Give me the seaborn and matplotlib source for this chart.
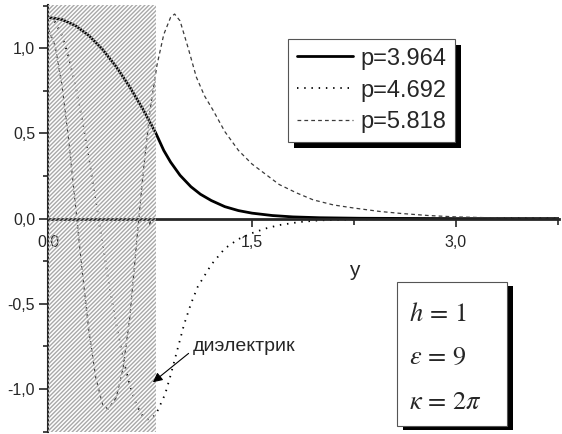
import matplotlib
matplotlib.use('Agg')
import matplotlib.pyplot as plt
import matplotlib.patheffects as pe
from matplotlib.patches import Rectangle
from matplotlib.ticker import MultipleLocator, FixedLocator, FuncFormatter
import seaborn as sns
import numpy as np

# данные
labels = ['p=3.964', 'p=4.692', 'p=5.818']

x1 = [0, 0.1, 0.2, 0.3, 0.4, 0.5, 0.6, 0.7, 0.79, 0.85, 0.9, 0.97, 1.05, 1.12,
      1.2, 1.3, 1.4, 1.5, 1.65, 1.8, 2.0, 2.3, 2.6, 3.0, 3.76]
y1 = [1.18, 1.168, 1.132, 1.073, 0.992, 0.891, 0.772, 0.637, 0.504, 0.40, 0.332,
      0.254, 0.187, 0.143, 0.106, 0.07, 0.047, 0.032, 0.018, 0.01, 0.005, 0.002,
      0.001, 0, 0]

x2 = [0, 0.05, 0.1, 0.15, 0.2, 0.25, 0.3, 0.35, 0.4, 0.45, 0.5, 0.55, 0.6, 0.65,
      0.7, 0.74, 0.79, 0.82, 0.86, 0.9, 0.95, 1.0, 1.05, 1.1, 1.2, 1.3, 1.4, 1.5,
      1.6, 1.7, 1.85, 2.0, 2.3, 2.7, 3.2, 3.76]
y2 = [1.18, 1.153, 1.075, 0.948, 0.779, 0.575, 0.344, 0.098, -0.152, -0.395,
      -0.621, -0.819, -0.979, -1.096, -1.164, -1.18, -1.152, -1.10, -1.03, -0.92,
      -0.77, -0.62, -0.50, -0.40, -0.27, -0.175, -0.12, -0.085, -0.058, -0.038,
      -0.02, -0.01, -0.004, -0.001, 0, 0]

x3 = [0, 0.05, 0.1, 0.15, 0.2, 0.25, 0.3, 0.35, 0.4, 0.44, 0.5, 0.55, 0.6, 0.65,
      0.7, 0.75, 0.8, 0.85, 0.9, 0.93, 0.97, 1.03, 1.09, 1.15, 1.21, 1.3, 1.4,
      1.5, 1.6, 1.7, 1.83, 1.95, 2.1, 2.25, 2.44, 2.6, 2.8, 3.0, 3.3, 3.76]
y3 = [1.116, 1.013, 0.785, 0.46, 0.079, -0.312, -0.665, -0.935, -1.091, -1.118,
      -1.05, -0.88, -0.58, -0.14, 0.28, 0.64, 0.9, 1.08, 1.18, 1.2, 1.16, 1.0,
      0.83, 0.72, 0.64, 0.51, 0.4, 0.32, 0.26, 0.2, 0.15, 0.11, 0.08, 0.062,
      0.042, 0.03, 0.018, 0.01, 0.004, 0]

h_diel = 0.79
x_major = [0, 1.5, 3.0]
y_major = [-1.0, -0.5, 0.0, 0.5, 1.0]
params = [r'$h\,=\,1$', r'$\varepsilon\,=\,9$', r'$\kappa\,=\,2\pi$']

sns.set_style('ticks')
plt.rcParams['font.family'] = ['Liberation Sans', 'DejaVu Sans']
plt.rcParams['mathtext.fontset'] = 'stix'
plt.rcParams['hatch.linewidth'] = 1.0

W, H = 562, 434
fig = plt.figure(figsize=(W / 100, H / 100), dpi=100)
ax = fig.add_axes([48.3 / W, 1 - 431.7 / H, 510.7 / W, 426.7 / H])

sns.lineplot(x=x1, y=y1, ax=ax, color='black', lw=2.0, label=labels[0])
sns.lineplot(x=x2, y=y2, ax=ax, color='black', lw=1.3, linestyle=(0, (0.8, 3.2)),
             label=labels[1])
sns.lineplot(x=x3, y=y3, ax=ax, color='#3a3a3a', lw=0.9, linestyle=(0, (3, 2.5)),
             label=labels[2])

# диэлектрик (штриховка поверх кривых)
ax.axvspan(0, h_diel, facecolor='none', edgecolor='#a8a8a8', hatch='////////',
           lw=0, zorder=5)

ax.set_xlim(0, 3.76)
ax.set_ylim(-1.25, 1.253)

ax.spines['bottom'].set_position('zero')
ax.spines['bottom'].set_linewidth(2.0)
ax.spines['left'].set_linewidth(1.5)
ax.spines['top'].set_visible(False)
ax.spines['right'].set_visible(False)

fmt = FuncFormatter(lambda v, p: f'{v:.1f}'.replace('.', ','))
ax.xaxis.set_major_locator(FixedLocator(x_major))
ax.xaxis.set_minor_locator(MultipleLocator(0.75))
ax.yaxis.set_major_locator(FixedLocator(y_major))
ax.yaxis.set_minor_locator(MultipleLocator(0.25))
ax.xaxis.set_major_formatter(fmt)
ax.yaxis.set_major_formatter(fmt)
ax.tick_params(axis='x', which='major', direction='out', length=6, width=1.2,
               pad=6, labelsize=11.5)
ax.tick_params(axis='x', which='minor', direction='out', length=4, width=1.2)
ax.tick_params(axis='y', which='major', direction='out', length=6.5, width=1.2,
               pad=3, labelsize=11.5)
ax.tick_params(axis='y', which='minor', direction='out', length=3.5, width=1.2)

ax.set_xlabel('y', fontsize=15)
ax.xaxis.set_label_coords(2.25 / 3.76, 0.40)
ax.set_ylabel('')

leg = ax.legend(loc='upper right', bbox_to_anchor=(0.796, 0.920), borderaxespad=0,
                fontsize=17, frameon=True, fancybox=False, framealpha=1,
                edgecolor='#555555', handlelength=2.4, handletextpad=0.3,
                labelspacing=0.42, borderpad=0.36)
leg.get_frame().set_linewidth(0.8)
leg.get_frame().set_path_effects([
    pe.SimplePatchShadow(offset=(4.3, -4.3), shadow_rgbFace='black', alpha=1),
    pe.Normal()])

ax.annotate('диэлектрик', xy=(0.77, -0.96), xytext=(1.065, -0.75),
            fontsize=14, va='center', ha='left', zorder=6,
            arrowprops=dict(arrowstyle='-|>', color='black', lw=0.8,
                            mutation_scale=14, shrinkA=1, shrinkB=0,
                            relpos=(0, 0.3)))

# блок параметров
bx, by, bw, bh = 397 / W, 1 - 426 / H, 110 / W, 144 / H
fig.patches.append(Rectangle((bx + 6 / W, by - 4 / H), bw, bh, transform=fig.transFigure,
                             facecolor='black', edgecolor='none', zorder=1))
fig.patches.append(Rectangle((bx, by), bw, bh, transform=fig.transFigure,
                             facecolor='white', edgecolor='#555555', lw=0.8, zorder=2))
for txt, ypx in zip(params, [314, 357, 402]):
    fig.text(409 / W, 1 - ypx / H, txt, fontsize=19, va='center', ha='left', zorder=3)

fig.savefig('out.png', dpi=100)
